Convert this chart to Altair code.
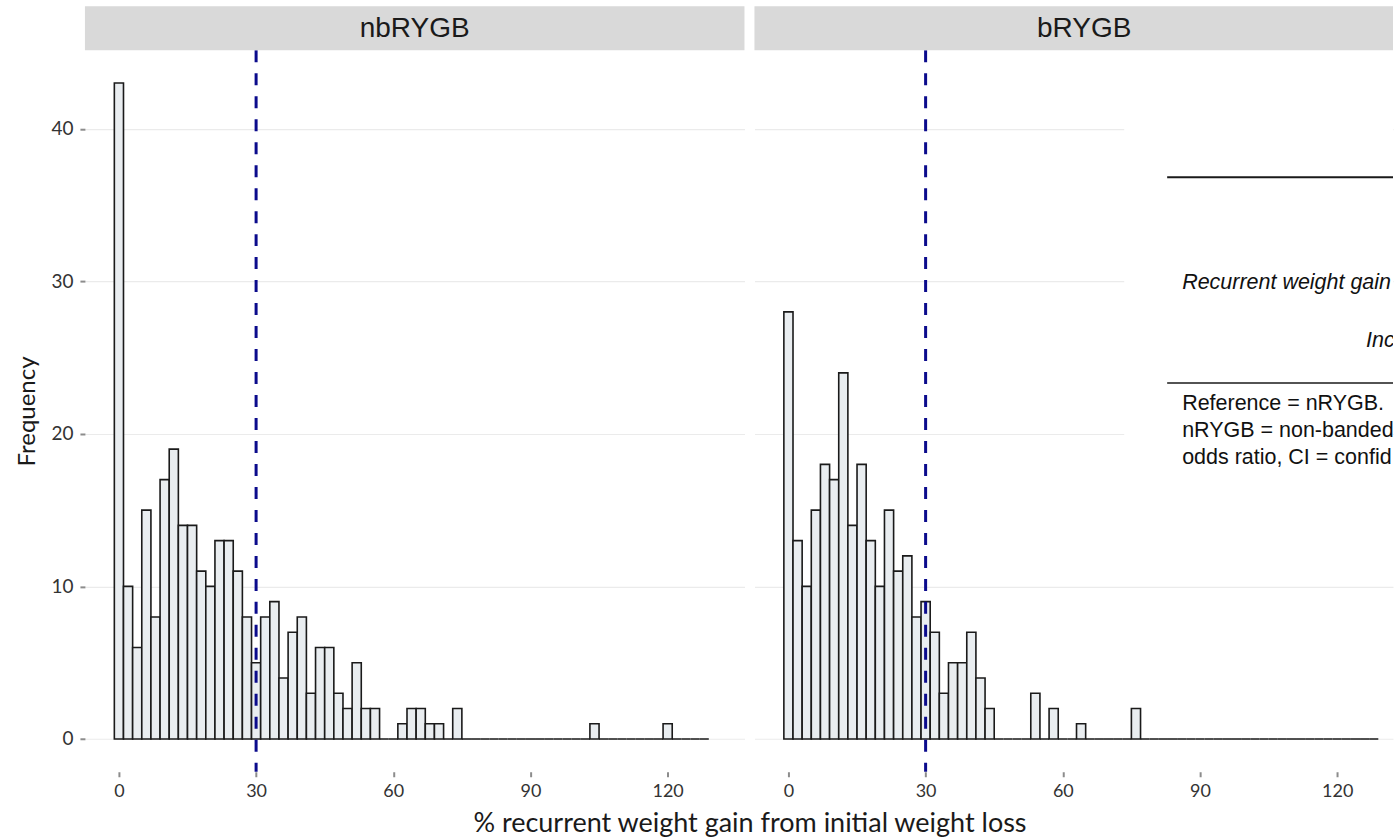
import altair as alt
import pandas as pd

# ---- data (bin width 2, bins centred on 0, 2, ..., 128) ----
bin_centers = list(range(0, 130, 2))
nbRYGB_counts = [43, 10, 6, 15, 8, 17, 19, 14, 14, 11, 10, 13, 13, 11, 8, 5, 8, 9, 4, 7,
                 8, 3, 6, 6, 3, 2, 5, 2, 2, 0, 0, 1, 2, 2, 1, 1, 0, 2, 0, 0,
                 0, 0, 0, 0, 0, 0, 0, 0, 0, 0, 0, 0, 1, 0, 0, 0, 0, 0, 0, 0,
                 1, 0, 0, 0, 0]
bRYGB_counts = [28, 13, 10, 15, 18, 17, 24, 14, 18, 13, 10, 15, 11, 12, 8, 9, 7, 3, 5, 5,
                7, 4, 2, 0, 0, 0, 0, 3, 0, 2, 0, 0, 1, 0, 0, 0, 0, 0, 2, 0,
                0, 0, 0, 0, 0, 0, 0, 0, 0, 0, 0, 0, 0, 0, 0, 0, 0, 0, 0, 0,
                0, 0, 0, 0, 0]
panel_names = ["nbRYGB", "bRYGB"]
threshold = 30
x_ticks = [0, 30, 60, 90, 120]
y_ticks = [0, 10, 20, 30, 40]
x_title = "% recurrent weight gain from initial weight loss"
y_title = "Frequency"
note_italic_1 = "Recurrent weight gain"
note_italic_2 = "Inc"
note_body = "Reference = nRYGB.\nnRYGB = non-banded\nodds ratio, CI = confid"

FONT = "Lato"
NOTE_FONT = "Liberation Sans"
PANEL_H = 722
LEFT_W = 660
RIGHT_W = 639
Y_DOMAIN = [-2.15, 45.15]
TOP_MARGIN = 50
BOTTOM_MARGIN = 67
LEFT_MARGIN = 85


def hist_df(counts):
    return pd.DataFrame({
        "start": [c - 1 for c in bin_centers],
        "end": [c + 1 for c in bin_centers],
        "count": counts,
    })


def make_panel(name, counts, width, x_domain, left):
    xscale = alt.Scale(domain=x_domain, nice=False, zero=False)
    yscale = alt.Scale(domain=Y_DOMAIN, nice=False, zero=False)

    if left:
        x_axis = alt.Axis(values=x_ticks, grid=False, domain=False, ticks=True,
                          tickSize=5, tickColor="#8c8c8c", tickWidth=2,
                          labelFont=FONT, labelFontSize=18, labelColor="#333333",
                          labelPadding=6, title=x_title, titleFont=FONT,
                          titleFontSize=27, titleFontWeight="normal",
                          titleColor="#1a1a1a", titleX=665, titleY=52,
                          titleAlign="center", titleBaseline="middle")
        y_axis = alt.Axis(values=y_ticks, grid=True, gridColor="#ebebeb", gridWidth=1.2,
                          domain=False, ticks=True, tickSize=5, tickColor="#8c8c8c",
                          tickWidth=2, labelFont=FONT, labelFontSize=19,
                          labelColor="#333333", labelPadding=7, title=y_title,
                          titleFont=FONT, titleFontSize=24, titleFontWeight="normal",
                          titleColor="#1a1a1a", titleX=-57, titleY=361, titleAngle=270,
                          titleAlign="center", titleBaseline="middle")
    else:
        x_axis = alt.Axis(values=x_ticks, grid=False, domain=False, ticks=True,
                          tickSize=5, tickColor="#8c8c8c", tickWidth=2,
                          labelFont=FONT, labelFontSize=18, labelColor="#333333",
                          labelPadding=6, title=None)
        y_axis = alt.Axis(values=y_ticks, grid=True, gridColor="#ebebeb", gridWidth=1.2,
                          domain=False, ticks=False, labels=False, title=None)

    one = pd.DataFrame({"label": [name]})

    # invisible frame that fixes the overall extent of the figure
    frame = alt.Chart(one).mark_rect(opacity=0).encode(
        x=alt.value(-LEFT_MARGIN if left else 0),
        x2=alt.value(width),
        y=alt.value(-TOP_MARGIN),
        y2=alt.value(PANEL_H + BOTTOM_MARGIN),
    )

    bars = alt.Chart(hist_df(counts)).mark_rect(
        fill="#e9edf0", stroke="#1a1a1a", strokeWidth=1.6
    ).encode(
        x=alt.X("start:Q", scale=xscale, axis=x_axis),
        x2="end:Q",
        y=alt.Y("count:Q", scale=yscale, axis=y_axis),
        y2=alt.datum(0),
    )

    vline = alt.Chart(pd.DataFrame({"start": [threshold]})).mark_rule(
        color="#0b0b8c", strokeWidth=3, strokeDash=[12, 11]
    ).encode(x=alt.X("start:Q", scale=xscale, axis=x_axis))

    strip_rect = alt.Chart(one).mark_rect(color="#d9d9d9").encode(
        x=alt.value(0), x2=alt.value(width), y=alt.value(-44), y2=alt.value(0)
    )
    strip_text = alt.Chart(one).mark_text(
        font="Liberation Sans", fontSize=28, color="#1a1a1a", align="center",
        baseline="middle"
    ).encode(x=alt.value(330), y=alt.value(-21), text="label:N")

    layers = [frame, bars]
    if not left:
        cover = alt.Chart(one).mark_rect(color="white").encode(
            x=alt.value(370), x2=alt.value(width), y=alt.value(0), y2=alt.value(480)
        )
        rule1 = alt.Chart(one).mark_rule(color="#1a1a1a", strokeWidth=2).encode(
            x=alt.value(413), x2=alt.value(width), y=alt.value(127)
        )
        rule2 = alt.Chart(one).mark_rule(color="#1a1a1a", strokeWidth=1.6).encode(
            x=alt.value(413), x2=alt.value(width), y=alt.value(333)
        )
        t1 = alt.Chart(pd.DataFrame({"s": [note_italic_1]})).mark_text(
            font=NOTE_FONT, fontSize=21.5, fontStyle="italic", align="left",
            baseline="alphabetic", color="#111111", clip=True
        ).encode(x=alt.value(428), y=alt.value(239), text="s:N")
        t2 = alt.Chart(pd.DataFrame({"s": [note_italic_2]})).mark_text(
            font=NOTE_FONT, fontSize=21.5, fontStyle="italic", align="left",
            baseline="alphabetic", color="#111111", clip=True
        ).encode(x=alt.value(612), y=alt.value(297), text="s:N")
        t3 = alt.Chart(pd.DataFrame({"s": [note_body]})).mark_text(
            font=NOTE_FONT, fontSize=21.5, align="left", baseline="alphabetic",
            color="#111111", lineBreak="\n", lineHeight=27, clip=True
        ).encode(x=alt.value(428), y=alt.value(360), text="s:N")
        layers += [cover, rule1, rule2, t1, t2, t3]
    layers += [vline, strip_rect, strip_text]

    return alt.layer(*layers).properties(width=width, height=PANEL_H)


left_chart = make_panel(panel_names[0], nbRYGB_counts, LEFT_W, [-7.43, 136.8], True)
right_chart = make_panel(panel_names[1], bRYGB_counts, RIGHT_W,
                         [-7.43, -7.43 + (136.8 + 7.43) * RIGHT_W / LEFT_W], False)

chart = alt.hconcat(left_chart, right_chart, spacing=10, bounds="flush").properties(
    padding=0,
).configure(background="white").configure_view(stroke=None)

chart.save("out.html", embed_options={"renderer": "svg", "actions": False})
